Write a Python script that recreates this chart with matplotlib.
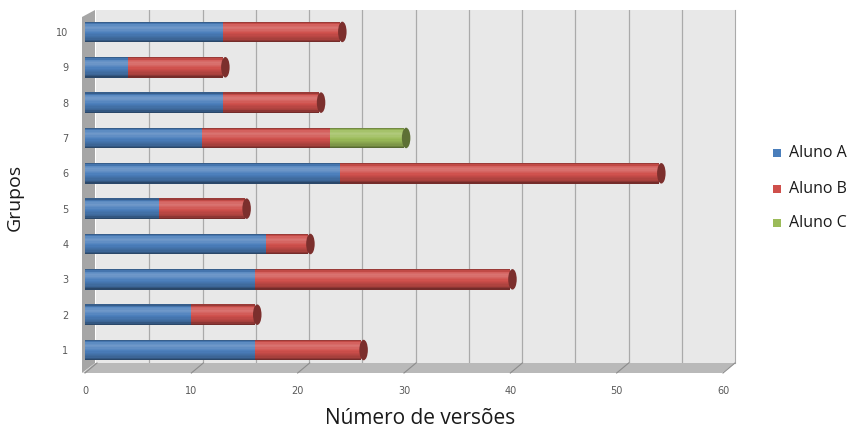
import numpy as np
import matplotlib
matplotlib.use('Agg')
import matplotlib.pyplot as plt
import matplotlib.transforms as mtransforms
from matplotlib.patches import Polygon, Ellipse
from matplotlib.colors import to_rgb

grupos = [1, 2, 3, 4, 5, 6, 7, 8, 9, 10]
aluno_a = [16, 10, 16, 17, 7, 24, 11, 13, 4, 13]
aluno_b = [10, 6, 24, 4, 8, 30, 12, 9, 9, 11]
aluno_c = [0, 0, 0, 0, 0, 0, 7, 0, 0, 0]
series = [('Aluno A', aluno_a, '#4a7ebb'),
          ('Aluno B', aluno_b, '#cf4f4b'),
          ('Aluno C', aluno_c, '#9bbb59')]

W, H = 848, 432
fig = plt.figure(figsize=(W / 100, H / 100), dpi=100)


def fx(px):
    return px / W


def fy(py):
    return 1 - py / H


def shade(c, t):
    # t: 0 bottom of cylinder, 1 top
    c = np.array(to_rgb(c))
    prof = [(0.0, -0.5), (0.15, -0.2), (0.45, 0.0), (0.7, 0.22), (0.85, 0.1), (1.0, -0.35)]
    xs, ys = zip(*prof)
    k = np.interp(t, xs, ys)
    if k >= 0:
        return tuple(c + (1 - c) * k)
    return tuple(c * (1 + k))


# back wall (offset for 3D look)
wall = fig.add_axes([fx(96), fy(363), fx(735 - 96), (363 - 10) / H], zorder=-3)
wall.set_facecolor('#e8e8e8')
wall.set_xlim(0, 60)
wall.set_ylim(0, 1)
wall.set_xticks(np.arange(5, 60, 5))
wall.grid(axis='x', color='#aaaaaa', lw=0.9)
wall.tick_params(length=0, labelbottom=False, labelleft=False)
for s in ['left', 'bottom', 'top']:
    wall.spines[s].set_visible(False)
wall.spines['right'].set_color('#aaaaaa')

# floor and left wall
fig.patches.append(Polygon([(fx(83), fy(373)), (fx(722), fy(373)), (fx(735), fy(363)), (fx(95), fy(363))],
                           closed=True, transform=fig.transFigure, facecolor='#b9b9b9',
                           edgecolor='none', zorder=-2))
fig.patches.append(Polygon([(fx(82), fy(17)), (fx(95), fy(10)), (fx(95), fy(363)), (fx(82), fy(373))],
                           closed=True, transform=fig.transFigure, facecolor='#a6a6a6',
                           edgecolor='none', zorder=-2))

ax = fig.add_axes([fx(85), fy(373), fx(723 - 85), (373 - 10) / H], zorder=1)
ax.patch.set_alpha(0)
ax.set_xlim(0, 60)
ax.set_ylim(0.35, 10.62)

bh = 0.58
n = 16
y = np.array(grupos, dtype=float)
left = np.zeros(len(grupos))
for name, vals, col in series:
    vals = np.array(vals, dtype=float)
    for i in range(n):
        t = (i + 0.5) / n
        ax.barh(y - bh / 2 + i * bh / n, vals, height=bh / n, left=left, align='edge',
                color=shade(col, t), edgecolor='none', zorder=3)
    left = left + vals

# end caps
last_col = []
for i in range(len(grupos)):
    c = series[0][2]
    for name, vals, col in series:
        if vals[i] > 0:
            c = col
    last_col.append(c)
for i, g in enumerate(grupos):
    ax.add_patch(Ellipse((left[i] + 0.2, g), 0.8, bh, facecolor=shade(last_col[i], 0.05),
                         edgecolor='none', zorder=4))

# diagonal floor ticks
tick_tr = mtransforms.blended_transform_factory(ax.transData, ax.transAxes)
for xt in range(0, 61, 10):
    ax.plot([xt, xt + 12 / 10.63], [0, 10 / 363], transform=tick_tr, color='#8c8c8c',
            lw=0.8, clip_on=False, zorder=2)

ax.set_yticks(grupos)
ax.set_yticklabels([str(g) for g in grupos])
ax.set_xticks(np.arange(0, 61, 10))
ax.tick_params(axis='both', length=0, labelsize=7, labelcolor='#595959')
ax.tick_params(axis='y', pad=12)
ax.tick_params(axis='x', pad=9)
for s in ax.spines.values():
    s.set_visible(False)

fig.text(fx(420), fy(418), 'Número de versões', ha='center', va='center',
         fontsize=15, family='Open Sans', color='#1a1a1a')
fig.text(fx(15), fy(197), 'Grupos', ha='center', va='center', rotation=90,
         fontsize=14, family='Open Sans', color='#1a1a1a')

# legend
for k, (name, vals, col) in enumerate(series):
    yy = [153, 189, 223][k]
    fig.patches.append(plt.Rectangle((fx(773), fy(yy + 4)), fx(8), 8 / H, transform=fig.transFigure,
                                     facecolor=col, edgecolor='none'))
    fig.text(fx(789), fy(yy), name, ha='left', va='center', fontsize=11.5,
             family='Open Sans', color='#1a1a1a')

fig.savefig('out.png', dpi=100)
